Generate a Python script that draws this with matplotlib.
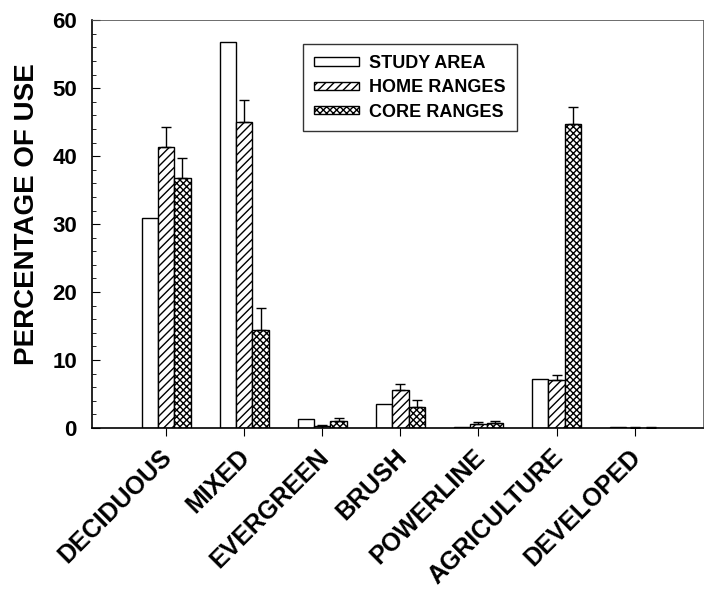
import numpy as np
import matplotlib.pyplot as plt
import matplotlib.transforms as mtransforms
from matplotlib.ticker import MultipleLocator

plt.rcParams['font.family'] = ['Liberation Sans', 'DejaVu Sans']
plt.rcParams['font.weight'] = 'bold'
plt.rcParams['hatch.linewidth'] = 1.0

habitats = ['DECIDUOUS', 'MIXED', 'EVERGREEN', 'BRUSH', 'POWERLINE',
            'AGRICULTURE', 'DEVELOPED']
study_area = [30.9, 56.8, 1.3, 3.5, 0.2, 7.2, 0.1]
home_ranges = [41.4, 45.0, 0.3, 5.6, 0.6, 7.0, 0.05]
home_err = [2.9, 3.2, 0.2, 0.8, 0.3, 0.8, 0.05]
core_ranges = [36.8, 14.4, 1.0, 3.1, 0.7, 44.8, 0.05]
core_err = [2.9, 3.2, 0.5, 1.0, 0.3, 2.4, 0.05]

fig = plt.figure(figsize=(7.04, 5.96), dpi=100)
ax = fig.add_axes([0.131, 0.282, 0.867, 0.684])

x = np.arange(len(habitats))
w = 0.21
ax.bar(x - w, study_area, w, color='white', edgecolor='black', lw=1.0,
       label='STUDY AREA')
ax.bar(x, home_ranges, w, color='white', edgecolor='black', lw=1.0,
       hatch='////', label='HOME RANGES')
ax.bar(x + w, core_ranges, w, color='white', edgecolor='black', lw=1.0,
       hatch='xxxxx', label='CORE RANGES')
ax.errorbar(x, home_ranges, yerr=[np.zeros(len(x)), home_err], fmt='none',
            ecolor='black', elinewidth=1.0, capsize=3.6)
ax.errorbar(x + w, core_ranges, yerr=[np.zeros(len(x)), core_err], fmt='none',
            ecolor='black', elinewidth=1.0, capsize=3.6)

ax.set_xlim(-0.946, 6.87)
ax.set_ylim(0, 60)
ax.yaxis.set_major_locator(MultipleLocator(10))
ax.yaxis.set_minor_locator(MultipleLocator(2))
ax.tick_params(axis='y', direction='in', length=6, labelsize=16, pad=11)
ax.tick_params(axis='y', which='minor', direction='in', length=3)
ax.tick_params(axis='x', direction='out', length=6, labelsize=18, pad=6)
ax.set_xticks(x)
ax.set_xticklabels(habitats, rotation=45, ha='right', rotation_mode='anchor')
shift = mtransforms.ScaledTranslation(-6 / 100, 0, fig.dpi_scale_trans)
for lab in ax.get_xticklabels():
    lab.set_transform(lab.get_transform() + shift)
ax.set_ylabel('PERCENTAGE OF USE', fontsize=20, fontweight='bold')
ax.yaxis.set_label_coords(-0.086, 0.525)

for s in ['right', 'top']:
    ax.spines[s].set_linewidth(0.6)
    ax.spines[s].set_color('#555555')
ax.spines['left'].set_linewidth(1.2)
ax.spines['bottom'].set_linewidth(1.2)

leg = ax.legend(loc='upper left', bbox_to_anchor=(0.33, 0.963), fontsize=13,
                frameon=True, fancybox=False, edgecolor='black',
                handlelength=2.5, handleheight=0.35, handletextpad=0.6,
                borderpad=0.6, labelspacing=0.4)
leg.get_frame().set_linewidth(1.0)

fig.savefig('out.png', dpi=100)
